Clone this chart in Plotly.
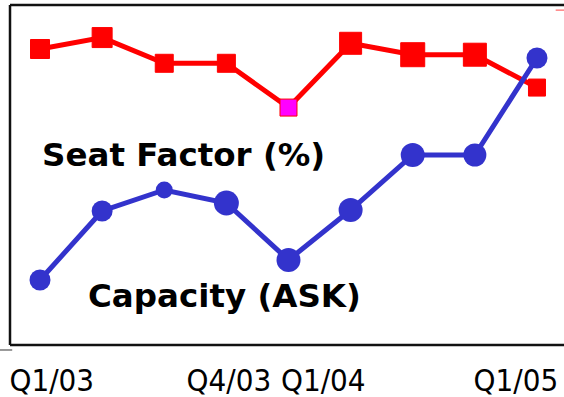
import plotly.graph_objects as go

# ---- data ----
quarters = ["Q1/03", "Q2/03", "Q3/03", "Q4/03", "Q1/04", "Q2/04", "Q3/04", "Q4/04", "Q1/05"]
seat_factor = [72.0, 72.8, 71.0, 71.0, 67.9, 72.4, 71.6, 71.6, 69.3]
capacity = [12.0, 13.38, 13.8, 13.54, 12.4, 13.4, 14.5, 14.5, 16.44]
tick_labels = ["Q1/03", "Q4/03", "Q1/04", "Q1/05"]

# ---- styles ----
red_sizes = [19, 20, 18, 18, 17, 22, 24, 23, 17]
red_fill = ["#ff0000"] * 4 + ["#ff00ff"] + ["#ff0000"] * 4
blue_sizes = [21, 21, 17, 25, 24, 24, 24, 23, 21]
label_pos = [0.19, 3.04, 4.56, 7.66]  # label anchor positions on the quarter scale

fig = go.Figure()
fig.add_trace(go.Scatter(
    x=list(range(len(quarters))), y=seat_factor, mode="lines+markers",
    line=dict(color="#ff0000", width=5), opacity=1,
    marker=dict(symbol="square", size=red_sizes, color=red_fill, opacity=1,
                line=dict(color="#ff0000", width=1)),
    yaxis="y", hovertext=quarters, showlegend=False))
fig.add_trace(go.Scatter(
    x=list(range(len(quarters))), y=capacity, mode="lines+markers",
    line=dict(color="#3333cc", width=5), opacity=1,
    marker=dict(symbol="circle", size=blue_sizes, color="#3333cc", opacity=1,
                line=dict(width=0)),
    yaxis="y2", hovertext=quarters, showlegend=False))

xr = [-0.483, 8.435]
tickfont = dict(family="DejaVu Sans Condensed, Roboto Condensed, Liberation Sans Narrow, Arial Narrow, DejaVu Sans",
                size=31, color="black")
fig.update_layout(
    width=564, height=397,
    margin=dict(l=10, r=0, t=5, b=52),
    paper_bgcolor="white", plot_bgcolor="white",
    xaxis=dict(range=xr, showgrid=False, zeroline=False, showline=False,
               showticklabels=False, ticks="", automargin=False),
    xaxis2=dict(range=xr, overlaying="x", anchor="free", position=0, side="bottom",
                showgrid=False, zeroline=False, showline=False, ticks="",
                tickmode="array", tickvals=label_pos, ticktext=tick_labels,
                tickangle=0, automargin=False, tickfont=tickfont, ticklabelstandoff=14),
    yaxis=dict(range=[51.28, 75.08], visible=False),
    yaxis2=dict(range=[10.7, 17.5], visible=False, overlaying="y"),
    font=dict(family="DejaVu Sans"),
)
# an empty trace so the label axis is drawn
fig.add_trace(go.Scatter(x=[], y=[], xaxis="x2", yaxis="y", showlegend=False))

# frame (left, top, bottom) - right side runs off the picture
frame = dict(color="#111111", width=2.5)
fig.add_shape(type="line", xref="paper", yref="paper", x0=0, x1=0, y0=0, y1=1, line=frame)
fig.add_shape(type="line", xref="paper", yref="paper", x0=0, x1=1.01, y0=1, y1=1, line=frame)
fig.add_shape(type="line", xref="paper", yref="paper", x0=0, x1=1.01, y0=0, y1=0, line=frame)
fig.add_shape(type="line", xref="paper", yref="paper", x0=-0.02, x1=0.004, y0=-0.0147, y1=-0.0147,
              line=dict(color="#333333", width=1))
fig.add_shape(type="line", xref="paper", yref="paper", x0=0.985, x1=1.0, y0=0.985, y1=0.985,
              line=dict(color="#ff4444", width=1))

fig.add_annotation(text="Seat Factor (%)", xref="paper", yref="paper", x=0.313, y=0.558,
                   showarrow=False, xanchor="center", yanchor="middle",
                   font=dict(family="DejaVu Sans", size=32.5, color="black", weight="bold"))
fig.add_annotation(text="Capacity (ASK)", xref="paper", yref="paper", x=0.388, y=0.145,
                   showarrow=False, xanchor="center", yanchor="middle",
                   font=dict(family="DejaVu Sans", size=32.5, color="black", weight="bold"))

fig.write_html("out.html", config={"displayModeBar": False},
               post_script="document.body.style.margin='0';document.body.style.overflow='hidden';")
